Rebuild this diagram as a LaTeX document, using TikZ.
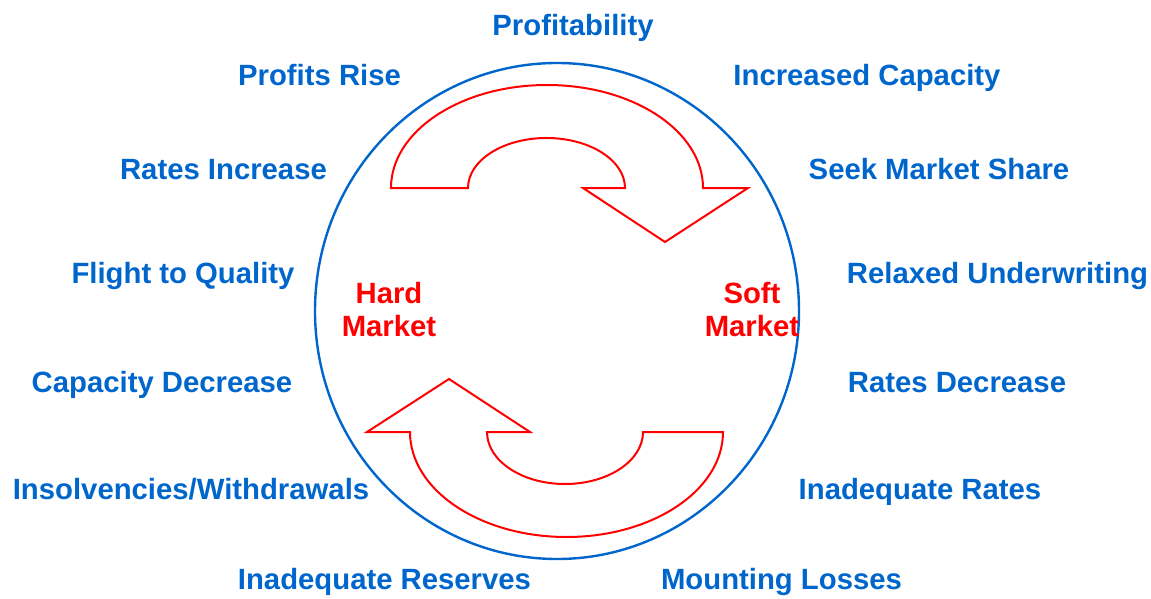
\documentclass[tikz,border=0pt]{standalone}
\usepackage{fontspec}
\setmainfont{Liberation Sans}
\usepackage{tikz}

\definecolor{cycleblue}{RGB}{0,102,204}
\definecolor{cyclered}{RGB}{255,0,0}

\tikzset{
  phase/.style={anchor=base, inner sep=0pt, text=cycleblue,
    font=\fontsize{29.3}{33}\selectfont\bfseries},
  market/.style={anchor=center, inner sep=0pt, align=center, text=cyclered,
    font=\fontsize{29.3}{33}\selectfont\bfseries},
  turn/.style={draw=cyclered, line width=2pt, fill=white, line join=miter}
}

\begin{document}
\begin{tikzpicture}[x=1pt, y=-1pt]
        \useasboundingbox (0, 0) rectangle (1151, 599);

        % Cycle
        \draw [cycleblue, line width=2.4pt] (557, 311) ellipse [x radius=242, y radius=248];

        % Upper arrow, hard to soft
        \draw [turn] (391, 188) arc [start angle=180, end angle=360, x radius=156, y radius=103]
          -- (748, 188) -- (665, 242) -- (583, 188) -- (625, 188)
          arc [start angle=0, end angle=-180, x radius=78.5, y radius=50] -- cycle;

        % Lower arrow, soft to hard
        \draw [turn] (723, 432) arc [start angle=0, end angle=180, x radius=156.5, y radius=105]
          -- (367, 432) -- (449, 379) -- (530, 432) -- (487, 432)
          arc [start angle=180, end angle=0, x radius=78, y radius=52] -- cycle;

        % Markets
        \node [market] (hard) at (389, 309.5) {Hard\\Market};
        \node [market] (soft) at (752, 309.5) {Soft\\Market};

        % Phases
        \node [phase] (prof) at (573, 36) {Profitability};
        \node [phase] (rise) at (319.5, 86) {Profits Rise};
        \node [phase] (capup) at (867, 86) {Increased Capacity};
        \node [phase] (rateup) at (223.5, 179) {Rates Increase};
        \node [phase] (share) at (939, 179) {Seek Market Share};
        \node [phase] (flight) at (183, 283) {Flight to Quality};
        \node [phase] (relaxed) at (997.5, 283) {Relaxed Underwriting};
        \node [phase] (capdown) at (162, 392) {Capacity Decrease};
        \node [phase] (ratedown) at (957, 392) {Rates Decrease};
        \node [phase] (insolv) at (191, 499) {Insolvencies/Withdrawals};
        \node [phase] (inadrates) at (920, 499) {Inadequate Rates};
        \node [phase] (reserves) at (384.5, 589) {Inadequate Reserves};
        \node [phase] (losses) at (781.5, 589) {Mounting Losses};
      \end{tikzpicture}
\end{document}
